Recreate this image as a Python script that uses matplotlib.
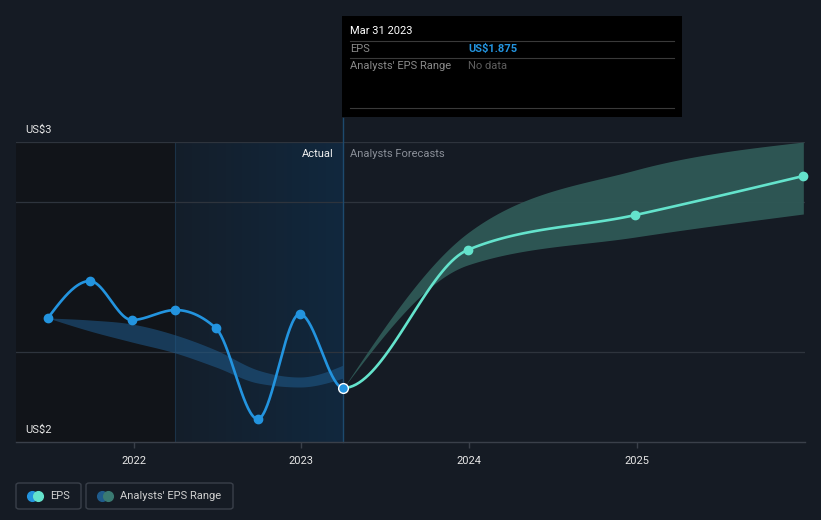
import numpy as np
import matplotlib
matplotlib.use('Agg')
import matplotlib.pyplot as plt
from matplotlib.patches import Rectangle, FancyBboxPatch
from matplotlib.lines import Line2D

plt.rcParams['font.family'] = ['Roboto', 'DejaVu Sans']

# EPS history (quarter ends) and analyst forecasts (year ends)
eps_dates = [2021.49, 2021.74, 2021.99, 2022.25, 2022.49, 2022.74, 2022.99, 2023.25,
             2023.99, 2024.99, 2025.99]
eps_vals = [2.05, 2.1425, 2.045, 2.07, 2.025, 1.7975, 2.06, 1.875,
            2.22, 2.3075, 2.405]
n_actual = 8

# past analyst estimate range
past_dates = [2021.49, 2021.74, 2021.99, 2022.25, 2022.49, 2022.74, 2022.99, 2023.25]
past_low = [2.05, 2.0175, 1.99, 1.9625, 1.9275, 1.8875, 1.8775, 1.90]
past_high = [2.05, 2.045, 2.035, 2.0075, 1.97, 1.92, 1.9025, 1.9325]

# forecast range
fc_dates = [2023.25, 2023.99, 2024.99, 2025.99]
fc_low = [1.875, 2.1825, 2.2525, 2.31]
fc_high = [1.875, 2.2625, 2.42, 2.49]

year_ticks = [2022, 2023, 2024, 2025]
W, H = 821, 520
BG = '#151b24'
BLUE = '#2394df'
TEAL = '#64e3cc'


def monotone(x, y, steps=40):
    # d3 curveMonotoneX style cubic
    x = np.asarray(x, float)
    y = np.asarray(y, float)
    n = len(x)
    h = np.diff(x)
    s = np.diff(y) / h
    t = np.zeros(n)
    for i in range(1, n - 1):
        p = (s[i - 1] * h[i] + s[i] * h[i - 1]) / (h[i - 1] + h[i])
        t[i] = (np.sign(s[i - 1]) + np.sign(s[i])) * min(abs(s[i - 1]), abs(s[i]), 0.5 * abs(p))
    t[0] = (3 * s[0] - t[1]) / 2 if n > 2 else s[0]
    t[-1] = (3 * s[-1] - t[-2]) / 2 if n > 2 else s[-1]
    xs, ys = [], []
    for i in range(n - 1):
        u = np.linspace(0, 1, steps)
        h00 = 2 * u**3 - 3 * u**2 + 1
        h10 = u**3 - 2 * u**2 + u
        h01 = -2 * u**3 + 3 * u**2
        h11 = u**3 - u**2
        xs.append(x[i] + u * h[i])
        ys.append(h00 * y[i] + h10 * h[i] * t[i] + h01 * y[i + 1] + h11 * h[i] * t[i + 1])
    return np.concatenate(xs), np.concatenate(ys)


fig = plt.figure(figsize=(W / 100, H / 100), dpi=100)
fig.patch.set_facecolor(BG)
ax = fig.add_axes([16 / W, 1 - 442 / H, (805 - 16) / W, 300 / H])
ax.set_facecolor(BG)
ax.set_xlim(2021.30, 2026.0)
ax.set_ylim(1.74, 2.49)

# shaded regions
ax.axvspan(2021.30, 2022.25, color='#111419', zorder=0, lw=0)
grad = np.linspace(0, 1, 256)
c0 = np.array([20, 30, 42]) / 255
c1 = np.array([17, 40, 62]) / 255
img = (c0[None, :] * (1 - grad[:, None]) + c1[None, :] * grad[:, None])[None, :, :]
ax.imshow(img, extent=[2022.25, 2023.25, 1.74, 2.49], aspect='auto', zorder=0.5)
ax.axvline(2022.25, color='#1b3247', lw=0.8, zorder=1)

# grid lines
for gv in [2.34, 1.965, 2.49]:
    ax.axhline(gv, color='#2e343d', lw=0.9, zorder=1)

for sp in ['top', 'right', 'left']:
    ax.spines[sp].set_visible(False)
ax.spines['bottom'].set_color('#3a404a')
ax.spines['bottom'].set_linewidth(1)
ax.set_yticks([])
ax.set_xticks(year_ticks)
ax.set_xticklabels([str(y) for y in year_ticks])
ax.tick_params(axis='x', colors='#3a404a', length=4, width=1, labelcolor='#e6e6e6',
               labelsize=8, pad=6)

# bands
bx, bl = monotone(past_dates, past_low)
_, bh = monotone(past_dates, past_high)
ax.fill_between(bx, bl, bh, color='#1f5b8c', alpha=0.55, lw=0, zorder=2)
fx, fl = monotone(fc_dates, fc_low)
_, fh = monotone(fc_dates, fc_high)
ax.fill_between(fx, fl, fh, color='#2f5956', alpha=0.95, lw=0, zorder=2)

# EPS line
ex, ey = monotone(eps_dates, eps_vals)
seg = 40 * (n_actual - 1)
ax.plot(ex[:seg], ey[:seg], color=BLUE, lw=1.9, zorder=3, solid_capstyle='round')
ax.plot(ex[seg:], ey[seg:], color=TEAL, lw=1.9, zorder=3, solid_capstyle='round')
ax.plot(eps_dates[:n_actual - 1], eps_vals[:n_actual - 1], 'o', color=BLUE, ms=6, zorder=4)
ax.plot(eps_dates[n_actual:], eps_vals[n_actual:], 'o', color=TEAL, ms=6, zorder=4, clip_on=False)
ax.plot(eps_dates[n_actual - 1], eps_vals[n_actual - 1], 'o', color=BLUE, ms=7,
        mec='white', mew=1, zorder=5)

# divider at last actual
ax.add_line(Line2D([2023.25, 2023.25], [1.74, 2.49 + 24 / 400], color='#1d4a6e', lw=1,
                   zorder=2.5, clip_on=False))


def px(x, y):
    return x / W, 1 - y / H


fig.text(*px(25, 130), 'US$3', color='#e6e6e6', fontsize=8, va='center')
fig.text(*px(25, 430), 'US$2', color='#e6e6e6', fontsize=8, va='center')
fig.text(*px(334, 154), 'Actual', color='#f0f0f0', fontsize=8, va='center', ha='right')
fig.text(*px(350, 154), 'Analysts Forecasts', color='#8a8f98', fontsize=8, va='center')

# tooltip
fig.patches.append(Rectangle(px(342, 117), 340 / W, 101 / H, transform=fig.transFigure,
                             facecolor='#000000', edgecolor='none', zorder=10))
for ly in [41, 58, 108]:
    fig.add_artist(Line2D([350 / W, 674 / W], [1 - ly / H] * 2, color='#3a3a3a', lw=0.8,
                          zorder=11))
fig.text(*px(350, 31), 'Mar 31 2023', color='white', fontsize=8, va='center', zorder=12)
fig.text(*px(350, 49), 'EPS', color='#8a8a8a', fontsize=8, va='center', zorder=12)
fig.text(*px(468, 49), 'US$1.875', color=BLUE, fontsize=8, fontweight='bold', va='center',
         zorder=12)
fig.text(*px(350, 66), "Analysts' EPS Range", color='#8a8a8a', fontsize=8, va='center',
         zorder=12)
fig.text(*px(468, 66), 'No data', color='#5e5e5e', fontsize=8, va='center', zorder=12)

# legend
for (x0, x1, label, c_a, c_b, tx) in [(16, 81, 'EPS', BLUE, TEAL, 50),
                                       (86, 233, "Analysts' EPS Range", '#1f5b8c', '#3a7a72', 120)]:
    fig.patches.append(FancyBboxPatch(px(x0, 509), (x1 - x0) / W, 26 / H,
                                      boxstyle='round,pad=0,rounding_size=0.004',
                                      transform=fig.transFigure, facecolor='none',
                                      edgecolor='#3a404a', lw=1))
    fig.add_artist(Line2D([(x0 + 16) / W], [1 - 496 / H], marker='o', color=c_a, ms=7, lw=0))
    fig.add_artist(Line2D([(x0 + 22) / W], [1 - 496 / H], marker='o', color=c_b, ms=7, lw=0))
    fig.text(*px(tx, 496), label, color='#d0d0d0', fontsize=8, va='center')

fig.savefig('out.png', dpi=100, facecolor=BG)
